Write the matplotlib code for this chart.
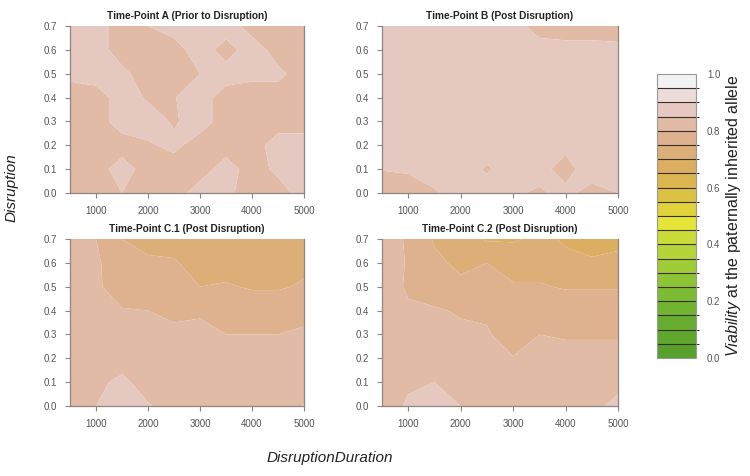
import numpy as np
import matplotlib
matplotlib.use("Agg")
import matplotlib.pyplot as plt
from matplotlib.colors import ListedColormap, BoundaryNorm
from matplotlib.cm import ScalarMappable

plt.rcParams['font.family'] = ['Liberation Sans', 'DejaVu Sans']
plt.rcParams['mathtext.fontset'] = 'custom'
plt.rcParams['mathtext.it'] = 'Liberation Sans:italic'
plt.rcParams['mathtext.rm'] = 'Liberation Sans'

# ---- data ----
duration = [500, 1000, 1500, 2000, 2500, 3000, 3500, 4000, 4500, 5000]
disruption = [0.0, 0.1, 0.2, 0.3, 0.4, 0.5, 0.6, 0.7]

# rows = disruption (0.0 -> 0.7), columns = duration
viab_A = [
    [0.83, 0.83, 0.85, 0.83, 0.83, 0.87, 0.86, 0.83, 0.83, 0.87],
    [0.83, 0.83, 0.87, 0.83, 0.83, 0.83, 0.87, 0.83, 0.86, 0.87],
    [0.83, 0.83, 0.83, 0.845, 0.86, 0.83, 0.83, 0.83, 0.87, 0.87],
    [0.83, 0.83, 0.87, 0.87, 0.845, 0.87, 0.83, 0.83, 0.83, 0.83],
    [0.83, 0.83, 0.87, 0.845, 0.848, 0.87, 0.83, 0.83, 0.83, 0.83],
    [0.86, 0.87, 0.86, 0.83, 0.83, 0.85, 0.87, 0.86, 0.86, 0.83],
    [0.87, 0.87, 0.83, 0.83, 0.83, 0.875, 0.83, 0.875, 0.83, 0.83],
    [0.87, 0.87, 0.83, 0.85, 0.87, 0.87, 0.875, 0.83, 0.85, 0.83],
]
viab_B = [
    [0.82, 0.83, 0.845, 0.87, 0.87, 0.86, 0.84, 0.87, 0.82, 0.85],
    [0.852, 0.855, 0.87, 0.87, 0.845, 0.87, 0.875, 0.82, 0.895, 0.87],
    [0.87, 0.87, 0.87, 0.87, 0.87, 0.87, 0.87, 0.87, 0.87, 0.87],
    [0.87, 0.87, 0.87, 0.87, 0.87, 0.87, 0.87, 0.87, 0.87, 0.87],
    [0.87, 0.87, 0.87, 0.87, 0.87, 0.87, 0.87, 0.87, 0.87, 0.87],
    [0.87, 0.87, 0.87, 0.87, 0.87, 0.87, 0.87, 0.87, 0.87, 0.87],
    [0.87, 0.87, 0.87, 0.87, 0.87, 0.87, 0.87, 0.87, 0.87, 0.865],
    [0.87, 0.87, 0.87, 0.87, 0.87, 0.87, 0.83, 0.82, 0.82, 0.82],
]
viab_C1 = [
    [0.83, 0.85, 0.86, 0.852, 0.84, 0.83, 0.83, 0.83, 0.83, 0.852],
    [0.83, 0.845, 0.855, 0.84, 0.83, 0.83, 0.83, 0.83, 0.83, 0.83],
    [0.83, 0.835, 0.84, 0.83, 0.825, 0.82, 0.82, 0.82, 0.82, 0.82],
    [0.83, 0.83, 0.82, 0.815, 0.81, 0.81, 0.80, 0.80, 0.80, 0.805],
    [0.83, 0.82, 0.802, 0.80, 0.79, 0.795, 0.78, 0.78, 0.78, 0.79],
    [0.82, 0.805, 0.785, 0.77, 0.765, 0.75, 0.755, 0.745, 0.745, 0.755],
    [0.82, 0.805, 0.78, 0.755, 0.755, 0.73, 0.73, 0.73, 0.73, 0.74],
    [0.81, 0.80, 0.75, 0.74, 0.73, 0.72, 0.72, 0.72, 0.72, 0.72],
]
viab_C2 = [
    [0.83, 0.855, 0.86, 0.85, 0.84, 0.835, 0.835, 0.84, 0.84, 0.86],
    [0.83, 0.845, 0.85, 0.84, 0.83, 0.82, 0.825, 0.83, 0.83, 0.84],
    [0.83, 0.835, 0.84, 0.83, 0.82, 0.801, 0.815, 0.81, 0.81, 0.81],
    [0.83, 0.82, 0.815, 0.81, 0.802, 0.79, 0.80, 0.797, 0.797, 0.797],
    [0.83, 0.805, 0.805, 0.795, 0.797, 0.78, 0.79, 0.785, 0.785, 0.785],
    [0.82, 0.795, 0.775, 0.76, 0.77, 0.755, 0.755, 0.745, 0.745, 0.745],
    [0.82, 0.797, 0.76, 0.74, 0.75, 0.73, 0.73, 0.71, 0.705, 0.71],
    [0.82, 0.795, 0.745, 0.72, 0.695, 0.695, 0.71, 0.695, 0.685, 0.69],
]

titles = ["Time-Point A (Prior to Disruption)", "Time-Point B (Post Disruption)",
          "Time-Point C.1 (Post Disruption)", "Time-Point C.2 (Post Disruption)"]

band_colors = ['#58a02c', '#5ea62e', '#66ac30', '#70b432', '#7cbc34', '#8cc436',
               '#a0cc38', '#b5d43a', '#cadc3a', '#e5e538', '#e0d23a', '#dcc243',
               '#dbb550', '#dcae62', '#dcae78', '#deb28f', '#e1bba5', '#e5c8bf',
               '#ecdcd9', '#f2f2f2']
levels = np.linspace(0, 1, 21)

# ---- figure ----
W, H = 750, 476
fig = plt.figure(figsize=(W / 100, H / 100), dpi=100)

def rect(l, t, r, b):
    return [l / W, 1 - b / H, (r - l) / W, (b - t) / H]

positions = [rect(70, 26, 304, 193), rect(382, 26, 618, 193),
             rect(70, 239, 304, 406), rect(382, 239, 618, 406)]
data = [viab_A, viab_B, viab_C1, viab_C2]

spine_col = '#8f8580'
tick_col = '#555555'
for pos, z, title in zip(positions, data, titles):
    ax = fig.add_axes(pos)
    X, Y = np.meshgrid(duration, disruption)
    ax.contourf(X, Y, np.array(z), levels=levels, colors=band_colors, antialiased=True)
    ax.set_xlim(500, 5000)
    ax.set_ylim(0, 0.7)
    ax.set_xticks([1000, 2000, 3000, 4000, 5000])
    ax.set_yticks([0.0, 0.1, 0.2, 0.3, 0.4, 0.5, 0.6, 0.7])
    ax.set_yticklabels(['0.0', '0.1', '0.2', '0.3', '0.4', '0.5', '0.6', '0.7'])
    ax.tick_params(direction='out', length=3.5, width=0.8, color=spine_col,
                   labelsize=7, labelcolor=tick_col, pad=6)
    for s in ['left', 'bottom', 'right']:
        ax.spines[s].set_color(spine_col)
        ax.spines[s].set_linewidth(0.9)
    ax.spines['top'].set_visible(False)
    ax.set_title(title, fontsize=7.3, fontweight='bold', color='#222222', pad=5)

# colorbar
cax = fig.add_axes(rect(657, 74, 696, 358))
cmap = ListedColormap(band_colors)
norm = BoundaryNorm(levels, cmap.N)
sm = ScalarMappable(norm=norm, cmap=cmap)
cb = fig.colorbar(sm, cax=cax, drawedges=True, ticks=[0.0, 0.2, 0.4, 0.6, 0.8, 1.0])
cb.dividers.set_color('#3a2e28')
cb.dividers.set_linewidth(0.8)
cb.outline.set_edgecolor('#999999')
cb.outline.set_linewidth(0.8)
cax.set_yticklabels(['0.0', '0.2', '0.4', '0.6', '0.8', '1.0'])
cax.tick_params(length=0, labelsize=7, labelcolor=tick_col, pad=8)

fig.text(0.978, (1 - 216 / H), r'$\mathit{Viability}$ at the paternally inherited allele',
         rotation=90, ha='center', va='center', fontsize=11.5, color='#222222')
fig.text(12 / W, 1 - 188 / H, 'Disruption', rotation=90, ha='center', va='center',
         fontsize=11, style='italic', color='#222222')
fig.text(330 / W, 1 - 458 / H, 'DisruptionDuration', ha='center', va='center',
         fontsize=11, style='italic', color='#222222')

fig.savefig('out.png', dpi=100)
